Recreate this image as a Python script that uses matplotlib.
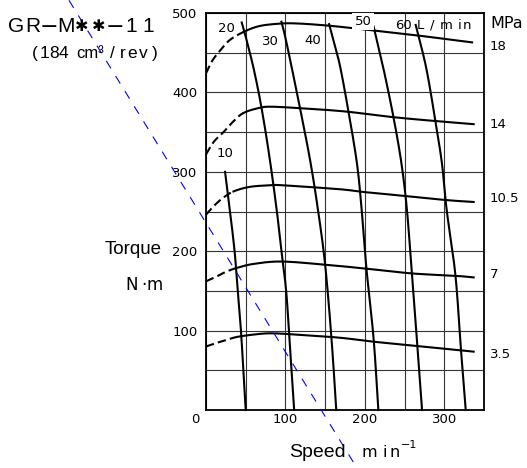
import numpy as np
import matplotlib
matplotlib.use("Agg")
import matplotlib.pyplot as plt
from matplotlib.ticker import MultipleLocator

W, H, DPI = 527, 468, 100
SANS = ["Liberation Sans", "DejaVu Sans"]
WIDE = ["DejaVu Sans"]

# ---- constant-pressure torque curves (speed min^-1, torque N·m) ----
pressure_labels = ["3.5", "7", "10.5", "14", "18"]
p35_speed = [0, 15, 25, 39, 60, 83, 120, 169, 211, 266, 321, 337]
p35_torque = [80, 85, 88, 92, 95, 96.6, 94.5, 91, 86, 80.6, 75, 73.5]
p7_speed = [0, 15, 25, 39, 60, 95, 150, 202, 259, 314, 337]
p7_torque = [162, 169, 174, 179, 184, 187, 183, 178, 172, 169, 167]
p105_speed = [0, 10, 20, 34, 55, 81, 97, 169, 194, 246, 301, 337]
p105_torque = [246, 257, 266, 275, 281, 283, 283, 278, 275, 270, 264.5, 262]
p14_speed = [0, 10, 22, 35, 47, 65, 81, 120, 175, 234, 288, 337]
p14_torque = [322, 338, 350, 364, 374, 380, 382, 380, 376, 369, 364, 360]
p18_speed = [0, 8, 18, 30, 47, 65, 85, 110, 155, 211, 264, 335]
p18_torque = [424, 440, 453, 466, 476, 483, 486, 487, 484, 478, 472, 463]
# speed below which each curve is drawn dashed
dash_until = [39, 39, 34, 47, 47]

# ---- constant-flow lines (L/min) ----
flow_labels = ["10", "20", "30", "40", "50", "60"]
f10_speed = [24, 30, 36, 40, 44, 47, 50]
f10_torque = [300, 252, 200, 150, 100, 50, 0]
f20_speed = [45, 49, 60, 70, 80, 89, 95, 101, 106, 111]
f20_torque = [488, 474, 430, 380, 318, 252, 200, 149, 75, 0]
f30_speed = [95, 101.5, 118, 131, 141, 150, 158, 164]
f30_torque = [489, 462, 382, 315, 252, 183, 90, 0]
f40_speed = [155, 162, 169, 179, 190, 196, 202, 211, 217]
f40_torque = [486, 460, 432, 378, 311, 252, 178, 90, 0]
f50_speed = [211, 223, 236, 246, 253, 259, 266, 272]
f50_torque = [483, 432, 369, 311, 252, 174, 82, 0]
f60_speed = [264, 277, 288, 297, 303, 314, 321, 327]
f60_torque = [485, 432, 369, 311, 252, 170, 76, 0]

# straight blue guide line running across the sheet
guide_speed = [-172.5, 190.0]
guide_torque = [516.0, -73.0]

x_ticks = [100, 200, 300]
y_ticks = [100, 200, 300, 400, 500]


def catmull_rom(xs, ys, n=30):
    p = np.column_stack([xs, ys]).astype(float)
    p = np.vstack([2 * p[0] - p[1], p, 2 * p[-1] - p[-2]])
    t = np.linspace(0, 1, n, endpoint=False)[:, None]
    out = []
    for i in range(1, len(p) - 2):
        p0, p1, p2, p3 = p[i - 1], p[i], p[i + 1], p[i + 2]
        seg = 0.5 * (2 * p1 + (-p0 + p2) * t
                     + (2 * p0 - 5 * p1 + 4 * p2 - p3) * t ** 2
                     + (-p0 + 3 * p1 - 3 * p2 + p3) * t ** 3)
        out.append(seg)
    out.append(p[-2][None, :])
    out = np.vstack(out)
    return out[:, 0], out[:, 1]


fig = plt.figure(figsize=(W / DPI, H / DPI), dpi=DPI)
ax = fig.add_axes([206 / W, (H - 410) / H, 278 / W, 397 / H])
ax.set_xlim(0, 350)
ax.set_ylim(0, 500)

ax.xaxis.set_minor_locator(MultipleLocator(50))
ax.yaxis.set_minor_locator(MultipleLocator(50))
ax.set_xticks(x_ticks)
ax.set_yticks(y_ticks)
ax.set_xticklabels([str(v) for v in x_ticks], family=WIDE, fontsize=9.5)
ax.set_yticklabels([str(v) for v in y_ticks], family=WIDE, fontsize=9.5)
ax.tick_params(which="both", length=0)
ax.tick_params(axis="x", pad=2)
ax.tick_params(axis="y", pad=6)
ax.grid(which="both", color="#333333", linewidth=0.8)
ax.set_axisbelow(True)
for s in ax.spines.values():
    s.set_linewidth(1.3)
    s.set_color("black")

# pressure curves
curves = [(p35_speed, p35_torque), (p7_speed, p7_torque), (p105_speed, p105_torque),
          (p14_speed, p14_torque), (p18_speed, p18_torque)]
for (sp, tq), cut in zip(curves, dash_until):
    xs, ys = catmull_rom(sp, tq)
    k = np.argmax(xs > cut + 1e-9)
    ax.plot(xs[:k + 1], ys[:k + 1], color="black", lw=1.5, ls=(0, (4, 2)),
            solid_capstyle="butt", zorder=3)
    ax.plot(xs[k:], ys[k:], color="black", lw=1.5, zorder=3)

# flow lines
flows = [(f10_speed, f10_torque), (f20_speed, f20_torque), (f30_speed, f30_torque),
         (f40_speed, f40_torque), (f50_speed, f50_torque), (f60_speed, f60_torque)]
for sp, tq in flows:
    xs, ys = catmull_rom(sp, tq)
    ax.plot(xs, ys, color="black", lw=1.5, zorder=3, clip_on=False)

ax.plot(guide_speed, guide_torque, color="blue", lw=0.8, ls=(0, (8, 8)),
        clip_on=False, zorder=6)


def px(x, y):
    return x / W, 1 - y / H


def place(xs, y, chars, **kw):
    for x, ch in zip(xs, chars):
        fig.text(*px(x, y), ch, ha="center", va="baseline", **kw)


# model designation
title_x = [16.5 + 16.4 * i for i in range(9)]
for x, ch in zip(title_x, "GR−M✱✱−11"):
    if ch == "✱":
        fig.text(*px(x, 31), ch, ha="center", va="baseline", fontsize=11.5, family=WIDE)
    elif ch == "−":
        fig.text(*px(x, 33), ch, ha="center", va="baseline", fontsize=16, family=WIDE)
    else:
        fig.text(*px(x, 32), ch, ha="center", va="baseline", fontsize=15, family=SANS)
place([35, 44.5, 54, 63.5], 58, "(184", fontsize=12.5, family=SANS)
fig.text(*px(90, 58), "cm³", ha="center", va="baseline", fontsize=12, family=SANS)
place([112, 122.5, 132.5, 143, 155], 58, "/rev)", fontsize=12.5, family=SANS)

# axis titles
fig.text(*px(133, 254), "Torque", ha="center", va="baseline", fontsize=13.5, family=SANS)
place([132, 144, 155], 290, "N·m", fontsize=12, family=WIDE)
fig.text(*px(317.5, 457), "Speed", ha="center", va="baseline", fontsize=14, family=SANS)
place([369.5, 385, 395], 457, "min", fontsize=11.5, family=WIDE)
fig.text(*px(409, 448), "−1", ha="center", va="baseline", fontsize=8, family=WIDE)
fig.text(*px(195, 423), "0", ha="center", va="baseline", fontsize=9.5, family=WIDE)

# pressure labels on the right
fig.text(*px(490, 28), "MPa", ha="left", va="baseline", fontsize=11.5, family=WIDE)
for lab, yb in zip(pressure_labels, [358, 278, 202, 128, 50]):
    fig.text(*px(490, yb), lab, ha="left", va="baseline", fontsize=9.5, family=WIDE)

# flow labels
flow_pos = [(225, 157), (226, 32), (270, 45), (313, 44), (363, 25), (403, 29)]
for lab, (x, y) in zip(flow_labels, flow_pos):
    kw = {}
    if lab == "50":
        kw["bbox"] = dict(facecolor="white", edgecolor="none", pad=1.5)
    fig.text(*px(x, y), lab, ha="center", va="baseline", fontsize=9.5,
             family=WIDE, zorder=5, **kw)
place([420.5, 432, 446.5, 459.5, 466.5], 29, "L/min", fontsize=9.5, family=WIDE)

fig.savefig("out.png", dpi=DPI)
